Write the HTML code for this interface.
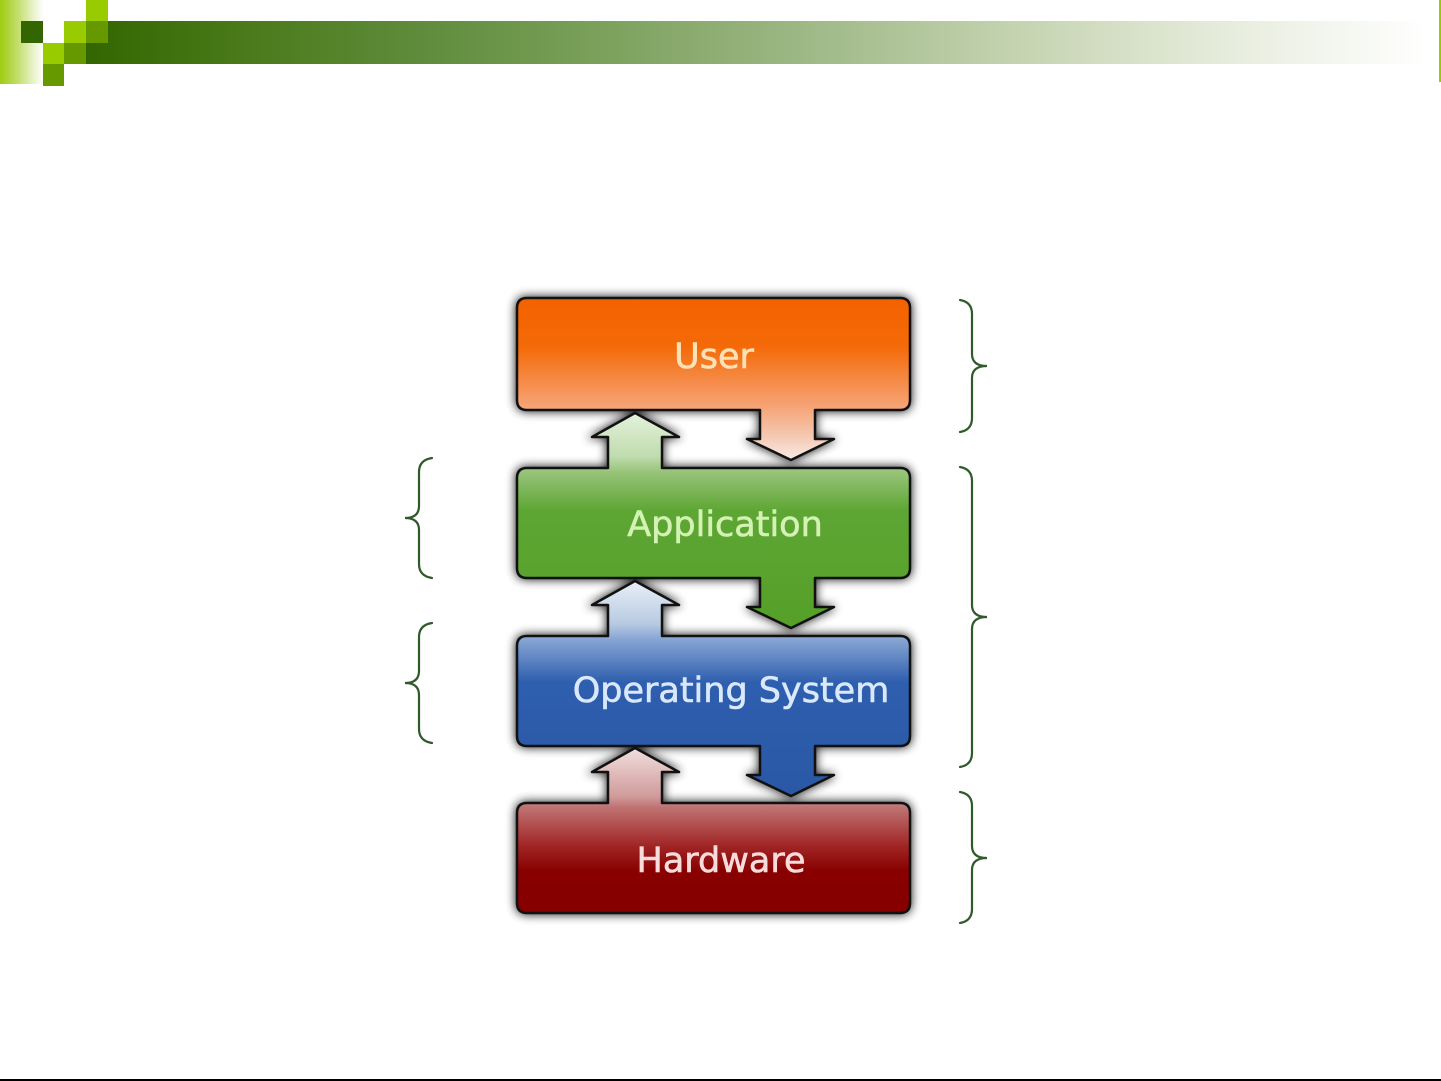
<!DOCTYPE html>
<html><head><meta charset="utf-8"><style>
html,body{margin:0;padding:0;background:#fff;}
body{width:1441px;height:1081px;position:relative;overflow:hidden;}
.a{position:absolute;}
</style></head><body>
<div class="a" style="left:0;top:0;width:44px;height:84px;background:linear-gradient(90deg,#9fcb10 0%,#c2de6a 40%,#e8f2c8 75%,#ffffff 100%);"></div>
<div class="a" style="left:86px;top:21px;width:1340px;height:43px;background:linear-gradient(90deg,#336600 0%,#4a7a1a 12%,#5f8c3c 25%,#7aa05a 38%,#95b27c 50%,#c6d4b2 70%,#e6ecdc 85%,#ffffff 100%);"></div>
<div class="a" style="left:21px;top:21px;width:22px;height:22px;background:#336600;"></div>
<div class="a" style="left:86px;top:0;width:22px;height:21px;background:#99cc00;"></div>
<div class="a" style="left:64px;top:21px;width:22px;height:22px;background:#99cc00;"></div>
<div class="a" style="left:86px;top:21px;width:22px;height:22px;background:#669900;"></div>
<div class="a" style="left:43px;top:43px;width:21px;height:21px;background:#99cc00;"></div>
<div class="a" style="left:64px;top:43px;width:22px;height:21px;background:#669900;"></div>
<div class="a" style="left:43px;top:64px;width:21px;height:22px;background:#669900;"></div>
<div class="a" style="left:1439px;top:0;width:2px;height:82px;background:#99cc00;"></div>
<div class="a" style="left:0;top:1079px;width:1441px;height:2px;background:#000;"></div>

<svg class="a" style="left:0;top:0" width="1441" height="1081" viewBox="0 0 1441 1081" xmlns="http://www.w3.org/2000/svg">
<defs>
<filter id="sh" x="-10%" y="-10%" width="120%" height="120%"><feGaussianBlur stdDeviation="5"/></filter>
<linearGradient id="gU" gradientUnits="userSpaceOnUse" x1="0" y1="298" x2="0" y2="460">
<stop offset="0" stop-color="#f46200"/><stop offset="0.3" stop-color="#f46a08"/><stop offset="0.65" stop-color="#f6a070"/><stop offset="0.85" stop-color="#f4c8b0"/><stop offset="1" stop-color="#f8ece6"/></linearGradient>
<linearGradient id="gA" gradientUnits="userSpaceOnUse" x1="0" y1="413" x2="0" y2="630">
<stop offset="0" stop-color="#e4f2dc"/><stop offset="0.2" stop-color="#c0dcae"/><stop offset="0.27" stop-color="#98c47a"/><stop offset="0.45" stop-color="#5ea634"/><stop offset="1" stop-color="#55a028"/></linearGradient>
<linearGradient id="gO" gradientUnits="userSpaceOnUse" x1="0" y1="580" x2="0" y2="798">
<stop offset="0" stop-color="#eaf0f8"/><stop offset="0.2" stop-color="#b8cae2"/><stop offset="0.27" stop-color="#88a6d4"/><stop offset="0.47" stop-color="#2e5eae"/><stop offset="1" stop-color="#2a58a6"/></linearGradient>
<linearGradient id="gH" gradientUnits="userSpaceOnUse" x1="0" y1="747" x2="0" y2="913">
<stop offset="0" stop-color="#f2e0e0"/><stop offset="0.3" stop-color="#d09a9a"/><stop offset="0.36" stop-color="#c07474"/><stop offset="0.6" stop-color="#a02424"/><stop offset="0.75" stop-color="#880000"/><stop offset="1" stop-color="#860000"/></linearGradient>
</defs>

<g filter="url(#sh)" opacity="0.9" fill="#000" stroke="#000" stroke-width="3">
<path d="M527,298 L900,298 Q910,298 910,308 L910,400 Q910,410 900,410 L815,410 L815,439 L834,439 L791,460 L747,439 L760,439 L760,410 L527,410 Q517,410 517,400 L517,308 Q517,298 527,298 Z"/>
<path d="M527,468 L608,468 L608,437 L592,437 L635,413 L679,437 L662,437 L662,468 L900,468 Q910,468 910,478 L910,568 Q910,578 900,578 L815,578 L815,607 L834,607 L791,628 L747,607 L760,607 L760,578 L527,578 Q517,578 517,568 L517,478 Q517,468 527,468 Z"/>
<path d="M527,636 L608,636 L608,605 L592,605 L635,581 L679,605 L662,605 L662,636 L900,636 Q910,636 910,646 L910,736 Q910,746 900,746 L815,746 L815,775 L834,775 L791,796 L747,775 L760,775 L760,746 L527,746 Q517,746 517,736 L517,646 Q517,636 527,636 Z"/>
<path d="M527,803 L608,803 L608,772 L592,772 L635,748 L679,772 L662,772 L662,803 L900,803 Q910,803 910,813 L910,903 Q910,913 900,913 L527,913 Q517,913 517,903 L517,813 Q517,803 527,803 Z"/>
</g>

<g stroke="#111" stroke-width="2.5" stroke-linejoin="round">
<path fill="url(#gU)" d="M527,298 L900,298 Q910,298 910,308 L910,400 Q910,410 900,410 L815,410 L815,439 L834,439 L791,460 L747,439 L760,439 L760,410 L527,410 Q517,410 517,400 L517,308 Q517,298 527,298 Z"/>
<path fill="url(#gA)" d="M527,468 L608,468 L608,437 L592,437 L635,413 L679,437 L662,437 L662,468 L900,468 Q910,468 910,478 L910,568 Q910,578 900,578 L815,578 L815,607 L834,607 L791,628 L747,607 L760,607 L760,578 L527,578 Q517,578 517,568 L517,478 Q517,468 527,468 Z"/>
<path fill="url(#gO)" d="M527,636 L608,636 L608,605 L592,605 L635,581 L679,605 L662,605 L662,636 L900,636 Q910,636 910,646 L910,736 Q910,746 900,746 L815,746 L815,775 L834,775 L791,796 L747,775 L760,775 L760,746 L527,746 Q517,746 517,736 L517,646 Q517,636 527,636 Z"/>
<path fill="url(#gH)" d="M527,803 L608,803 L608,772 L592,772 L635,748 L679,772 L662,772 L662,803 L900,803 Q910,803 910,813 L910,903 Q910,913 900,913 L527,913 Q517,913 517,903 L517,813 Q517,803 527,803 Z"/>
</g>

<g font-family="'DejaVu Sans','Liberation Sans',sans-serif" font-size="35" text-anchor="middle" stroke-width="0.6">
<text x="714" y="368" fill="#fde2b6" stroke="#fde2b6">User</text>
<text x="725" y="536" fill="#d4f2b4" stroke="#d4f2b4">Application</text>
<text x="731" y="702" fill="#dae8fc" stroke="#dae8fc">Operating System</text>
<text x="721" y="872" fill="#f8dcdc" stroke="#f8dcdc">Hardware</text>
</g>

<g fill="none" stroke="#2f5a2a" stroke-width="2.2" stroke-linecap="round">
<path d="M960,300 Q972,302 972,314 L972,354 Q972,366 987,366 Q972,366 972,378 L972,418 Q972,430 960,432"/>
<path d="M960,467 Q972,469 972,481 L972,605 Q972,617 987,617 Q972,617 972,629 L972,753 Q972,765 960,767"/>
<path d="M960,792 Q972,794 972,806 L972,846 Q972,858 987,858 Q972,858 972,870 L972,909 Q972,921 960,923"/>
<path d="M432,458 Q419,460 419,472 L419,506 Q419,518 405,518 Q419,518 419,530 L419,564 Q419,576 432,578"/>
<path d="M432,623 Q419,625 419,637 L419,671 Q419,683 405,683 Q419,683 419,695 L419,729 Q419,741 432,743"/>
</g>
</svg>
</body></html>
